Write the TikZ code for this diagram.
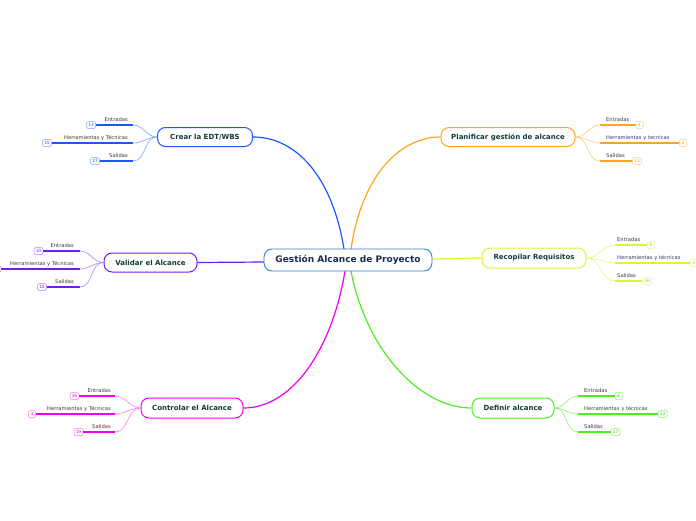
\documentclass[tikz,border=0pt]{standalone}
\usepackage{fontspec}
\setmainfont{DejaVu Sans}
\definecolor{cblue}{HTML}{2F7FD0}
\definecolor{navy}{HTML}{1B2A55}
\definecolor{dteal}{HTML}{123C3A}
\definecolor{leafgray}{HTML}{3A3A3A}
\definecolor{bBlue}{HTML}{1E55FF}
\definecolor{lBlue}{HTML}{7FA0FF}
\definecolor{bOrange}{HTML}{FFA41E}
\definecolor{lOrange}{HTML}{FFC878}
\definecolor{bPurple}{HTML}{6F1DF0}
\definecolor{lPurple}{HTML}{A982F7}
\definecolor{bYellow}{HTML}{DDF23A}
\definecolor{lYellow}{HTML}{E8F67A}
\definecolor{bMagenta}{HTML}{F000F0}
\definecolor{lMagenta}{HTML}{F47CF4}
\definecolor{bGreen}{HTML}{4CEE1E}
\definecolor{lGreen}{HTML}{8CF26C}
\tikzset{
  centerbox/.style={draw=cblue, line width=0.9pt, rounded corners=8pt, fill=white,
    font=\fontsize{9}{10}\selectfont\bfseries, text=navy, minimum width=168pt,
    minimum height=22pt, inner sep=0pt},
  branch/.style={draw=#1, line width=1pt, rounded corners=8pt, fill=white,
    font=\fontsize{7}{8}\selectfont\bfseries, text=dteal, minimum height=19pt, inner sep=0pt},
  leaftext/.style={font=\fontsize{5.2}{6}\selectfont, text=leafgray, inner sep=0pt},
  badge/.style={draw=#1, line width=0.5pt, rounded corners=2pt, fill=white,
    font=\fontsize{4.3}{5}\selectfont, minimum width=9pt, minimum height=7pt, inner sep=1pt},
  leafline/.style={draw=#1, line width=1.6pt},
  forkline/.style={draw=#1, line width=0.6pt},
  mainline/.style={draw=#1, line width=1.2pt},
}
\begin{document}
\begin{tikzpicture}[x=1pt, y=-1pt]
\useasboundingbox (0,0) rectangle (696,520);

% ---------- main connectors (drawn first) ----------
\coordinate (cn1) at (344,249);
\coordinate (cn2) at (351,249);
\coordinate (cs1) at (345,271);
\coordinate (cs2) at (351,271);

\node[branch=bBlue, minimum width=95pt] (cr) at (205,137) {Crear la EDT/WBS};
\node[branch=bOrange, minimum width=134pt] (pl) at (508,137) {Planificar gestión de alcance};
\node[branch=bPurple, minimum width=93pt] (va) at (150.5,262.5) {Validar el Alcance};
\node[branch=bYellow, minimum width=104pt, minimum height=20pt] (re) at (534,258) {Recopilar Requisitos};
\node[branch=bMagenta, minimum width=102pt, minimum height=20pt] (co) at (192,408) {Controlar el Alcance};
\node[branch=bGreen, minimum width=82pt, minimum height=20pt] (de) at (513,408) {Definir alcance};

\draw[mainline=bBlue] (cn1) .. controls (332,175) and (295,137) .. (cr.east);
\draw[mainline=bOrange] (cn2) .. controls (362,175) and (400,137) .. (pl.west);
\draw[mainline=bPurple] (264,262) -- (va.east);
\draw[mainline=bYellow] (432,259) -- (re.west);
\draw[mainline=bMagenta] (cs1) .. controls (332,350) and (292,408) .. (co.east);
\draw[mainline=bGreen] (cs2) .. controls (366,350) and (420,408) .. (de.west);

\node[centerbox] (c) at (348,260) {Gestión Alcance de Proyecto};

% ---------- Crear la EDT/WBS ----------
\coordinate (cr1) at (133,125);
\coordinate (cr2) at (133,143);
\coordinate (cr3) at (133,161);
\node[badge=lBlue, text=bBlue] (crb1) at (91,125) {13};
\node[badge=lBlue, text=bBlue] (crb2) at (47,143) {15};
\node[badge=lBlue, text=bBlue] (crb3) at (95,161) {27};
\draw[leafline=bBlue] (crb1.east) -- (cr1);
\draw[leafline=bBlue] (crb2.east) -- (cr2);
\draw[leafline=bBlue] (crb3.east) -- (cr3);
\draw[forkline=lBlue] (cr.west) to[out=180,in=0] (cr1);
\draw[forkline=lBlue] (cr.west) to[out=180,in=0] (cr2);
\draw[forkline=lBlue] (cr.west) to[out=180,in=0] (cr3);
\node[leaftext, anchor=base east] (crt1) at (128,121) {Entradas};
\node[leaftext, anchor=base east] (crt2) at (128,139) {Herramientas y Técnicas};
\node[leaftext, anchor=base east] (crt3) at (128,157) {Salidas};

% ---------- Planificar gestion de alcance ----------
\coordinate (pl1) at (600,125);
\coordinate (pl2) at (600,143);
\coordinate (pl3) at (600,161);
\node[badge=lOrange, text=bOrange, minimum width=7.5pt] (plb1) at (639.5,125) {4};
\node[badge=lOrange, text=bOrange, minimum width=7.5pt] (plb2) at (683,143) {4};
\node[badge=lOrange, text=bOrange] (plb3) at (637,161) {13};
\draw[leafline=bOrange] (pl1) -- (plb1.west);
\draw[leafline=bOrange] (pl2) -- (plb2.west);
\draw[leafline=bOrange] (pl3) -- (plb3.west);
\draw[forkline=lOrange] (pl.east) to[out=0,in=180] (pl1);
\draw[forkline=lOrange] (pl.east) to[out=0,in=180] (pl2);
\draw[forkline=lOrange] (pl.east) to[out=0,in=180] (pl3);
\node[leaftext, anchor=base west] (plt1) at (606,121) {Entradas};
\node[leaftext, anchor=base west] (plt2) at (606,139) {Herramientas y tecnicas};
\node[leaftext, anchor=base west] (plt3) at (606,157) {Salidas};

% ---------- Validar el Alcance ----------
\coordinate (va1) at (80,251);
\coordinate (va2) at (80,269);
\coordinate (va3) at (80,287);
\node[badge=lPurple, text=bPurple] (vab1) at (38.5,251) {10};
\node[badge=lPurple, text=bPurple] (vab2) at (-3.5,269) {};
\node[badge=lPurple, text=bPurple] (vab3) at (42,287) {10};
\draw[leafline=bPurple] (vab1.east) -- (va1);
\draw[leafline=bPurple] (vab2.east) -- (va2);
\draw[leafline=bPurple] (vab3.east) -- (va3);
\draw[forkline=lPurple] (va.west) to[out=180,in=0] (va1);
\draw[forkline=lPurple] (va.west) to[out=180,in=0] (va2);
\draw[forkline=lPurple] (va.west) to[out=180,in=0] (va3);
\node[leaftext, anchor=base east] (vat1) at (74,247) {Entradas};
\node[leaftext, anchor=base east] (vat2) at (74,265) {Herramientas y Técnicas};
\node[leaftext, anchor=base east] (vat3) at (74,283) {Salidas};

% ---------- Recopilar Requisitos ----------
\coordinate (re1) at (615,245);
\coordinate (re2) at (615,263);
\coordinate (re3) at (615,281);
\node[badge=lYellow, text=bYellow!80!black, minimum width=7.5pt] (reb1) at (651,245) {5};
\node[badge=lYellow, text=bYellow!80!black, minimum width=7.5pt] (reb2) at (694,263) {3};
\node[badge=lYellow, text=bYellow!80!black] (reb3) at (647,281) {36};
\draw[leafline=bYellow] (re1) -- (reb1.west);
\draw[leafline=bYellow] (re2) -- (reb2.west);
\draw[leafline=bYellow] (re3) -- (reb3.west);
\draw[forkline=lYellow] (re.east) to[out=0,in=180] (re1);
\draw[forkline=lYellow] (re.east) to[out=0,in=180] (re2);
\draw[forkline=lYellow] (re.east) to[out=0,in=180] (re3);
\node[leaftext, anchor=base west] (ret1) at (617,241) {Entradas};
\node[leaftext, anchor=base west] (ret2) at (617,259) {Herramientas y técnicas};
\node[leaftext, anchor=base west] (ret3) at (617,277) {Salidas};

% ---------- Controlar el Alcance ----------
\coordinate (co1) at (115,396);
\coordinate (co2) at (115,414);
\coordinate (co3) at (115,432);
\node[badge=lMagenta, text=bMagenta] (cob1) at (74.5,396) {26};
\node[badge=lMagenta, text=bMagenta, minimum width=7.5pt] (cob2) at (32,414) {3};
\node[badge=lMagenta, text=bMagenta] (cob3) at (78.5,432) {19};
\draw[leafline=bMagenta] (cob1.east) -- (co1);
\draw[leafline=bMagenta] (cob2.east) -- (co2);
\draw[leafline=bMagenta] (cob3.east) -- (co3);
\draw[forkline=lMagenta] (co.west) to[out=180,in=0] (co1);
\draw[forkline=lMagenta] (co.west) to[out=180,in=0] (co2);
\draw[forkline=lMagenta] (co.west) to[out=180,in=0] (co3);
\node[leaftext, anchor=base east] (cot1) at (111,392) {Entradas};
\node[leaftext, anchor=base east] (cot2) at (111,410) {Herramientas y Técnicas};
\node[leaftext, anchor=base east] (cot3) at (111,428) {Salidas};

% ---------- Definir alcance ----------
\coordinate (de1) at (578,396);
\coordinate (de2) at (578,414);
\coordinate (de3) at (578,432);
\node[badge=lGreen, text=bGreen!85!black, minimum width=7.5pt] (deb1) at (618.5,396) {4};
\node[badge=lGreen, text=bGreen!85!black] (deb2) at (662.5,414) {13};
\node[badge=lGreen, text=bGreen!85!black] (deb3) at (615.5,432) {17};
\draw[leafline=bGreen] (de1) -- (deb1.west);
\draw[leafline=bGreen] (de2) -- (deb2.west);
\draw[leafline=bGreen] (de3) -- (deb3.west);
\draw[forkline=lGreen] (de.east) to[out=0,in=180] (de1);
\draw[forkline=lGreen] (de.east) to[out=0,in=180] (de2);
\draw[forkline=lGreen] (de.east) to[out=0,in=180] (de3);
\node[leaftext, anchor=base west] (det1) at (584,392) {Entradas};
\node[leaftext, anchor=base west] (det2) at (584,410) {Herramientas y técnicas};
\node[leaftext, anchor=base west] (det3) at (584,428) {Salidas};
\end{tikzpicture}
\end{document}
